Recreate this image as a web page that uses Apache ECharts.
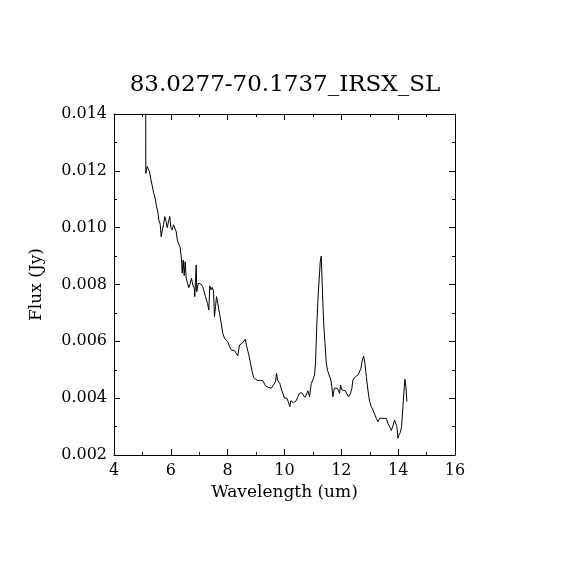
<!DOCTYPE html>
<html lang="en">
<head>
    <meta charset="utf-8" />
    <title>83.0277-70.1737_IRSX_SL</title>
    <style>
        html, body { margin: 0; padding: 0; background: #fff; }
        #main { width: 570px; height: 570px; }
    </style>
</head>
<body>
    <div id="main"></div>
    <script src="https://cdn.jsdelivr.net/npm/echarts@6/dist/echarts.min.js"></script>
    <script>
    // 波长 (um)
    var wavelength = [
      5.115, 5.119, 5.168, 5.214, 5.249, 5.295, 5.365, 5.400, 5.450, 5.485,
      5.541, 5.576, 5.626, 5.661, 5.696, 5.742, 5.787, 5.837, 5.872, 5.918,
      5.963, 5.999, 6.048, 6.094, 6.139, 6.189, 6.234, 6.280, 6.329, 6.375,
      6.400, 6.435, 6.470, 6.505, 6.540, 6.586, 6.632, 6.681, 6.727, 6.773,
      6.822, 6.843, 6.892, 6.913, 6.963, 7.008, 7.068, 7.124, 7.174, 7.219,
      7.290, 7.336, 7.371, 7.420, 7.455, 7.501, 7.536, 7.572, 7.607, 7.653,
      7.712, 7.772, 7.828, 7.888, 7.948, 8.004, 8.064, 8.124, 8.180, 8.240,
      8.300, 8.356, 8.416, 8.462, 8.511, 8.568, 8.617, 8.673, 8.744, 8.804,
      8.864, 8.909, 8.980, 9.061, 9.145, 9.237, 9.297, 9.332, 9.378, 9.427,
      9.473, 9.533, 9.589, 9.638, 9.684, 9.719, 9.754, 9.790, 9.835, 9.895,
      9.941, 10.001, 10.047, 10.082, 10.131, 10.188, 10.223, 10.272, 10.318, 10.364,
      10.413, 10.469, 10.529, 10.600, 10.670, 10.716, 10.765, 10.822, 10.882, 10.941,
      10.998, 11.058, 11.093, 11.139, 11.188, 11.234, 11.258, 11.293, 11.314, 11.350,
      11.385, 11.434, 11.470, 11.516, 11.586, 11.632, 11.667, 11.703, 11.752, 11.798,
      11.858, 11.904, 11.939, 11.974, 12.020, 12.080, 12.140, 12.196, 12.256, 12.315,
      12.372, 12.407, 12.467, 12.502, 12.548, 12.597, 12.643, 12.689, 12.738, 12.784,
      12.829, 12.879, 12.935, 12.995, 13.055, 13.111, 13.171, 13.231, 13.287, 13.347,
      13.463, 13.582, 13.638, 13.698, 13.758, 13.814, 13.874, 13.909, 13.955, 13.991,
      14.026, 14.075, 14.121, 14.167, 14.216, 14.237, 14.272, 14.307
    ];
    // 流量 (Jy)
    var flux = [
      0.01500, 0.01191, 0.01215, 0.01209, 0.01197, 0.01171, 0.01168, 0.01121, 0.01103, 0.01080,
      0.01056, 0.01027, 0.01012, 0.00968, 0.00988, 0.01010, 0.01039, 0.01021, 0.01000, 0.01021,
      0.01039, 0.01000, 0.00992, 0.01010, 0.01004, 0.00986, 0.00953, 0.00949, 0.00930, 0.00890,
      0.00840, 0.00886, 0.00831, 0.00880, 0.00822, 0.00816, 0.00789, 0.00804, 0.00822, 0.00798,
      0.00789, 0.00757, 0.00869, 0.00775, 0.00804, 0.00798, 0.00801, 0.00792, 0.00798, 0.00757,
      0.00734, 0.00710, 0.00795, 0.00781, 0.00790, 0.00778, 0.00687, 0.00722, 0.00757, 0.00734,
      0.00699, 0.00664, 0.00628, 0.00611, 0.00605, 0.00599, 0.00581, 0.00570, 0.00570, 0.00567,
      0.00558, 0.00549, 0.00587, 0.00581, 0.00593, 0.00599, 0.00607, 0.00581, 0.00552, 0.00523,
      0.00493, 0.00473, 0.00467, 0.00462, 0.00462, 0.00462, 0.00462, 0.00443, 0.00446, 0.00438,
      0.00443, 0.00435, 0.00443, 0.00441, 0.00458, 0.00488, 0.00464, 0.00470, 0.00452, 0.00429,
      0.00417, 0.00400, 0.00394, 0.00400, 0.00388, 0.00370, 0.00391, 0.00396, 0.00384, 0.00380,
      0.00391, 0.00405, 0.00417, 0.00419, 0.00415, 0.00403, 0.00411, 0.00426, 0.00405, 0.00452,
      0.00464, 0.00482, 0.00528, 0.00664, 0.00769, 0.00840, 0.00880, 0.00900, 0.00840, 0.00734,
      0.00652, 0.00581, 0.00523, 0.00497, 0.00490, 0.00464, 0.00440, 0.00405, 0.00435, 0.00440,
      0.00435, 0.00429, 0.00417, 0.00446, 0.00429, 0.00429, 0.00426, 0.00415, 0.00405, 0.00415,
      0.00435, 0.00464, 0.00464, 0.00476, 0.00478, 0.00483, 0.00488, 0.00505, 0.00534, 0.00548,
      0.00523, 0.00476, 0.00429, 0.00388, 0.00370, 0.00358, 0.00344, 0.00329, 0.00317, 0.00329,
      0.00329, 0.00329, 0.00311, 0.00300, 0.00286, 0.00302, 0.00323, 0.00329, 0.00300, 0.00259,
      0.00270, 0.00279, 0.00300, 0.00370, 0.00440, 0.00467, 0.00440, 0.00388
    ];
    // 刻度
    var xTicks = [4, 6, 8, 10, 12, 14, 16];
    var yTicks = ['0.002', '0.004', '0.006', '0.008', '0.010', '0.012', '0.014'];

    var points = [];
    for (var i = 0; i < wavelength.length; i++) {
      points.push([wavelength[i], flux[i]]);
    }

    var xMin = xTicks[0], xMax = xTicks[xTicks.length - 1];
    var yMin = parseFloat(yTicks[0]), yMax = parseFloat(yTicks[yTicks.length - 1]);
    var nameFont = { fontFamily: 'DejaVu Serif', fontSize: 17, color: '#000' };

    function axisX(pos, showLabel) {
      return {
        type: 'value', position: pos, min: xMin, max: xMax, interval: 2,
        name: showLabel ? 'Wavelength (um)' : '',
        nameLocation: 'middle', nameGap: 28,
        nameTextStyle: nameFont,
        axisLine: { show: true, onZero: false, lineStyle: { color: '#000', width: 1 } },
        axisTick: { show: true, inside: true, length: 6, lineStyle: { color: '#000' } },
        minorTick: { show: true, splitNumber: 2, length: 3, lineStyle: { color: '#000' } },
        axisLabel: { show: showLabel, margin: 8, fontFamily: 'DejaVu Serif', fontSize: 16, color: '#000' },
        splitLine: { show: false }
      };
    }
    function axisY(pos, showLabel) {
      return {
        type: 'value', position: pos, min: yMin, max: yMax, interval: 0.002,
        name: showLabel ? 'Flux (Jy)' : '',
        nameLocation: 'middle', nameGap: 69,
        nameTextStyle: nameFont,
        axisLine: { show: true, onZero: false, lineStyle: { color: '#000', width: 1 } },
        axisTick: { show: true, inside: true, length: 6, lineStyle: { color: '#000' } },
        minorTick: { show: true, splitNumber: 2, length: 3, lineStyle: { color: '#000' } },
        axisLabel: {
          show: showLabel, margin: 7, fontFamily: 'DejaVu Serif', fontSize: 16, color: '#000',
          formatter: function (v) { return v.toFixed(3); }
        },
        splitLine: { show: false }
      };
    }

    var myChart = echarts.init(document.getElementById('main'));
    var option = {
      backgroundColor: '#fff',
      animation: false,
      title: {
        text: '83.0277-70.1737_IRSX_SL',
        left: 'center',
        top: 69,
        textStyle: { fontFamily: 'DejaVu Serif', fontSize: 23, fontWeight: 'normal', color: '#000' }
      },
      grid: { left: 114, top: 114, width: 341, height: 341 },
      xAxis: [axisX('bottom', true), axisX('top', false)],
      yAxis: [axisY('left', true), axisY('right', false)],
      series: [{
        type: 'line',
        data: points,
        xAxisIndex: 0,
        yAxisIndex: 0,
        showSymbol: false,
        clip: true,
        lineStyle: { color: '#000', width: 1 }
      }]
    };
    myChart.setOption(option);
    </script>
</body>
</html>
